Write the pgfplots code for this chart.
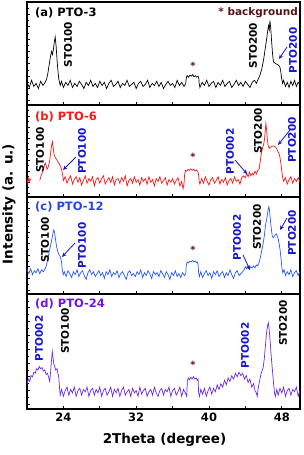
\documentclass[border=0pt]{standalone}
\usepackage{fontspec}
\setmainfont{DejaVu Sans}
\usepackage{pgfplots}
\pgfplotsset{compat=1.18}
\usetikzlibrary{arrows.meta}
\definecolor{lineB}{RGB}{255,20,20}
\definecolor{lineC}{RGB}{40,90,255}
\definecolor{lineD}{RGB}{110,40,240}
\definecolor{ptoblue}{RGB}{20,20,210}
\definecolor{maroon}{RGB}{90,20,20}
\definecolor{titleC}{RGB}{40,70,230}
\definecolor{titleD}{RGB}{110,20,230}
\pgfplotsset{panel/.style={
  scale only axis, width=273pt, anchor=south west,
  xmin=20, xmax=50, ymin=0, ymax=100,
  xtick={24,28,...,48}, xticklabels={},
  ytick={4,16,...,100}, yticklabels={}, minor y tick num=1,
  xtick pos=left, ytick pos=left, tick align=inside,
  major tick length=3.5pt, minor tick length=2pt,
  axis line style={line width=1.1pt},
  every tick/.style={black, line width=0.8pt},
  tick label style={font=\bfseries\fontsize{11.5}{13}\selectfont},
  /pgf/number format/assume math mode=true,
  clip=true,
}}
\tikzset{
  vlab/.style={rotate=90, inner sep=0pt, font=\bfseries\fontsize{10.5}{12}\selectfont},
  ttl/.style={anchor=west, inner sep=0pt, font=\bfseries\fontsize{11.5}{13}\selectfont},
  star/.style={inner sep=0pt, text=maroon, font=\bfseries\fontsize{10}{12}\selectfont},
  arr/.style={ptoblue, line width=0.8pt, -{Stealth[length=4.5pt,width=4pt]}},
}
\begin{document}
\begin{tikzpicture}[x=1pt,y=1pt]
\path[use as bounding box] (0,0) rectangle (303,-455);
% ---------------- panel a
\begin{axis}[panel, at={(27pt,-105pt)}, height=103pt]
\addplot[black, line width=0.7pt] table[row sep=\\] {
x y\\
20.00 22\\ 20.25 17\\ 20.50 24\\ 20.75 18\\ 21.00 21\\ 21.25 16\\ 21.50 23\\ 21.75 19\\ 22.00 22\\ 22.15 25\\
22.30 31\\ 22.45 40\\ 22.60 48\\ 22.70 52\\ 22.80 49\\ 22.90 54\\ 23.00 61\\ 23.10 66\\ 23.20 57\\ 23.30 44\\
23.40 33\\ 23.50 25\\ 23.65 19\\ 23.80 23\\ 24.00 17\\ 24.25 22\\ 24.50 19\\ 24.75 24\\ 25.00 17\\ 25.25 21\\
25.50 18\\ 25.75 23\\ 26.00 20\\ 26.25 16\\ 26.50 22\\ 26.75 19\\ 27.00 24\\ 27.25 18\\ 27.50 21\\ 27.75 17\\
28.00 23\\ 28.25 19\\ 28.50 22\\ 28.75 16\\ 29.00 21\\ 29.25 24\\ 29.50 18\\ 29.75 20\\ 30.00 23\\ 30.25 17\\
30.50 21\\ 30.75 19\\ 31.00 24\\ 31.25 18\\ 31.50 20\\ 31.75 22\\ 32.00 16\\ 32.25 21\\ 32.50 23\\ 32.75 18\\
33.00 20\\ 33.25 24\\ 33.50 17\\ 33.75 21\\ 34.00 19\\ 34.25 23\\ 34.50 18\\ 34.75 22\\ 35.00 16\\ 35.25 20\\
35.50 23\\ 35.75 19\\ 36.00 21\\ 36.25 17\\ 36.50 24\\ 36.75 19\\ 37.00 22\\ 37.25 18\\ 37.45 21\\ 37.50 26\\
37.60 28.5\\ 37.75 27\\ 37.90 29\\ 38.05 28\\ 38.20 29.5\\ 38.35 27.5\\ 38.50 28.5\\ 38.65 27\\ 38.80 28\\ 38.88 26\\
38.92 21\\ 39.00 17\\ 39.25 22\\ 39.50 19\\ 39.75 24\\ 40.00 18\\ 40.25 21\\ 40.50 23\\ 40.75 17\\ 41.00 22\\
41.25 19\\ 41.50 24\\ 41.75 18\\ 42.00 21\\ 42.25 23\\ 42.50 17\\ 42.75 20\\ 43.00 24\\ 43.25 19\\ 43.50 22\\
43.75 18\\ 44.00 23\\ 44.25 20\\ 44.50 17\\ 44.75 22\\ 45.00 24\\ 45.20 21\\ 45.40 25\\ 45.60 29\\ 45.80 35\\
46.00 44\\ 46.15 53\\ 46.30 62\\ 46.45 72\\ 46.55 77\\ 46.62 73\\ 46.70 82\\ 46.78 75\\ 46.88 62\\ 46.98 50\\
47.08 42\\ 47.20 41\\ 47.35 40\\ 47.50 39.5\\ 47.65 38.5\\ 47.78 37\\ 47.88 33\\ 47.98 26\\ 48.08 21\\ 48.20 24\\
48.40 18\\ 48.60 22\\ 48.80 17\\ 49.00 23\\ 49.20 19\\ 49.40 24\\ 49.60 18\\ 49.80 22\\ 50.00 20\\
};
\end{axis}
% ---------------- panel b
\begin{axis}[panel, at={(27pt,-197pt)}, height=92pt]
\addplot[lineB, line width=0.7pt] table[row sep=\\] {
x y\\
20.00 19\\ 20.10 15\\ 20.20 21\\ 20.30 17\\ 20.40 20\\
};
\addplot[lineB, line width=0.7pt] table[row sep=\\] {
x y\\
21.40 18\\ 21.55 23\\ 21.70 27\\ 21.85 32\\ 22.00 37\\ 22.10 34\\ 22.20 30\\ 22.35 33\\ 22.50 40\\ 22.62 50\\
22.72 57\\ 22.80 60\\ 22.88 53\\ 22.98 46\\ 23.10 43\\ 23.25 41\\ 23.40 38\\ 23.55 36\\ 23.70 33\\ 23.82 29\\
23.92 24\\ 24.00 18\\ 24.20 22\\ 24.40 15\\ 24.60 20\\ 24.80 23\\ 25.00 14\\ 25.20 19\\ 25.40 22\\ 25.60 16\\
25.80 21\\ 26.00 13\\ 26.20 18\\ 26.40 23\\ 26.60 15\\ 26.80 20\\ 27.00 17\\ 27.20 22\\ 27.40 12\\ 27.60 19\\
27.80 21\\ 28.00 15\\ 28.20 20\\ 28.40 23\\ 28.60 14\\ 28.80 18\\ 29.00 21\\ 29.20 16\\ 29.40 22\\ 29.60 13\\
29.80 19\\ 30.00 20\\ 30.20 15\\ 30.40 21\\ 30.60 17\\ 30.80 23\\ 31.00 12\\ 31.20 18\\ 31.40 20\\ 31.60 15\\
31.80 22\\ 32.00 16\\ 32.20 19\\ 32.40 13\\ 32.60 21\\ 32.80 17\\ 33.00 20\\ 33.20 14\\ 33.40 22\\ 33.60 16\\
33.80 19\\ 34.00 12\\ 34.20 20\\ 34.40 17\\ 34.60 22\\ 34.80 15\\ 35.00 18\\ 35.20 21\\ 35.40 13\\ 35.60 19\\
35.80 16\\ 36.00 20\\ 36.20 14\\ 36.40 18\\ 36.60 21\\ 36.80 12\\ 37.00 17\\ 37.15 9\\ 37.25 14\\ 37.32 24\\
37.40 29\\ 37.55 28\\ 37.70 30\\ 37.85 29\\ 38.00 30.5\\ 38.15 29\\ 38.30 30\\ 38.45 28.5\\ 38.60 29.5\\ 38.75 28\\
38.85 25\\ 38.92 17\\ 39.00 14\\ 39.20 20\\ 39.40 15\\ 39.60 22\\ 39.80 17\\ 40.00 13\\ 40.20 19\\ 40.40 21\\
40.60 15\\ 40.80 18\\ 41.00 22\\ 41.20 14\\ 41.40 19\\ 41.60 16\\ 41.80 21\\ 42.00 13\\ 42.20 18\\ 42.40 20\\
42.60 15\\ 42.80 22\\ 43.00 17\\ 43.20 19\\ 43.40 14\\ 43.60 21\\ 43.80 23\\ 44.00 21\\ 44.15 26\\ 44.30 22\\
44.45 27\\ 44.60 23\\ 44.75 26\\ 44.90 24\\ 45.05 28\\ 45.20 25\\ 45.35 29\\ 45.50 30\\ 45.62 38\\ 45.75 47\\
45.88 53\\ 46.00 57\\ 46.10 63\\ 46.18 72\\ 46.25 80\\ 46.32 74\\ 46.42 62\\ 46.52 55\\ 46.62 53\\ 46.75 54\\
46.90 55\\ 47.05 55.5\\ 47.20 55\\ 47.35 54\\ 47.50 51\\ 47.65 48\\ 47.78 44\\ 47.88 38\\ 47.98 30\\ 48.08 22\\
48.20 17\\ 48.40 21\\ 48.60 14\\ 48.80 19\\ 49.00 22\\ 49.20 15\\ 49.40 20\\ 49.60 17\\ 49.80 21\\ 50.00 16\\
};
\end{axis}
% ---------------- panel c
\begin{axis}[panel, at={(27pt,-294pt)}, height=97pt]
\addplot[lineC, line width=0.7pt] table[row sep=\\] {
x y\\
20.00 25\\ 20.20 21\\ 20.40 26\\ 20.60 20\\ 20.80 24\\ 21.00 22\\ 21.20 26\\ 21.40 21\\ 21.60 25\\ 21.80 23\\
22.00 26\\ 22.15 30\\ 22.30 37\\ 22.45 44\\ 22.60 50\\ 22.72 56\\ 22.84 62\\ 22.94 66\\ 23.02 64\\ 23.12 57\\
23.25 49\\ 23.40 43\\ 23.55 40\\ 23.68 38\\ 23.78 34\\ 23.88 25\\ 23.98 20\\ 24.10 23\\ 24.30 18\\ 24.50 24\\
24.70 21\\ 24.90 17\\ 25.10 23\\ 25.30 20\\ 25.50 25\\ 25.70 18\\ 25.90 22\\ 26.10 24\\ 26.30 19\\ 26.50 15\\
26.70 22\\ 26.90 25\\ 27.10 20\\ 27.30 23\\ 27.50 18\\ 27.70 21\\ 27.90 24\\ 28.10 19\\ 28.30 22\\ 28.50 16\\
28.70 23\\ 28.90 20\\ 29.10 25\\ 29.30 18\\ 29.50 22\\ 29.70 20\\ 29.90 24\\ 30.10 17\\ 30.30 21\\ 30.50 23\\
30.70 19\\ 30.90 15\\ 31.10 22\\ 31.30 24\\ 31.50 19\\ 31.70 21\\ 31.90 18\\ 32.10 23\\ 32.30 20\\ 32.50 25\\
32.70 17\\ 32.90 22\\ 33.10 19\\ 33.30 24\\ 33.50 21\\ 33.70 16\\ 33.90 23\\ 34.10 20\\ 34.30 22\\ 34.50 18\\
34.70 24\\ 34.90 21\\ 35.10 17\\ 35.30 23\\ 35.50 20\\ 35.70 15\\ 35.90 22\\ 36.10 19\\ 36.30 24\\ 36.50 18\\
36.70 21\\ 36.90 17\\ 37.10 22\\ 37.30 19\\ 37.45 21\\ 37.50 30\\ 37.62 33\\ 37.75 32\\ 37.90 34\\ 38.05 33\\
38.20 34.5\\ 38.35 33\\ 38.50 34\\ 38.62 32.5\\ 38.72 33\\ 38.80 30\\ 38.86 22\\ 38.95 18\\ 39.10 23\\ 39.30 17\\
39.50 21\\ 39.70 24\\ 39.90 19\\ 40.10 22\\ 40.30 16\\ 40.50 23\\ 40.70 20\\ 40.90 24\\ 41.10 18\\ 41.30 21\\
41.50 23\\ 41.70 17\\ 41.90 22\\ 42.10 19\\ 42.30 25\\ 42.50 20\\ 42.70 16\\ 42.90 22\\ 43.10 24\\ 43.30 19\\
43.50 21\\ 43.70 23\\ 43.85 25\\ 44.00 28\\ 44.15 26\\ 44.30 29\\ 44.45 26\\ 44.60 28\\ 44.75 27\\ 44.90 29\\
45.05 27\\ 45.20 30\\ 45.35 29\\ 45.50 32\\ 45.65 38\\ 45.80 45\\ 45.95 52\\ 46.08 60\\ 46.20 70\\ 46.32 76\\
46.42 82\\ 46.52 88\\ 46.58 90\\ 46.65 86\\ 46.75 76\\ 46.85 67\\ 46.95 60\\ 47.05 58\\ 47.15 59\\ 47.28 61\\
47.40 62\\ 47.50 60\\ 47.62 56\\ 47.72 51\\ 47.82 45\\ 47.92 36\\ 48.00 28\\ 48.10 22\\ 48.25 25\\ 48.40 19\\
48.60 23\\ 48.80 20\\ 49.00 25\\ 49.20 18\\ 49.40 22\\ 49.60 24\\ 49.80 19\\ 50.00 23\\
};
\end{axis}
% ---------------- panel d
\begin{axis}[panel, at={(27pt,-409pt)}, height=115pt, xticklabels={24,,32,,40,,48}]
\addplot[lineD, line width=0.7pt] table[row sep=\\] {
x y\\
20.00 22\\ 20.15 26\\ 20.30 24\\ 20.45 29\\ 20.60 28\\ 20.75 32\\ 20.90 31\\ 21.05 35\\ 21.20 34\\ 21.35 37\\
21.50 35\\ 21.65 36\\ 21.80 33\\ 21.95 34\\ 22.10 30\\ 22.25 31\\ 22.40 27\\ 22.50 24\\ 22.60 33\\ 22.70 43\\
22.78 50\\ 22.86 45\\ 22.95 39\\ 23.05 37\\ 23.15 34\\ 23.30 35\\ 23.40 31\\ 23.50 27\\ 23.58 18\\ 23.65 12\\
23.80 17\\ 24.00 11\\ 24.20 16\\ 24.40 19\\ 24.60 12\\ 24.80 17\\ 25.00 14\\ 25.20 19\\ 25.40 11\\ 25.60 16\\
25.80 18\\ 26.00 12\\ 26.20 17\\ 26.40 15\\ 26.60 19\\ 26.80 11\\ 27.00 16\\ 27.20 18\\ 27.40 12\\ 27.60 17\\
27.80 14\\ 28.00 19\\ 28.20 11\\ 28.40 16\\ 28.60 18\\ 28.80 12\\ 29.00 15\\ 29.20 19\\ 29.40 11\\ 29.60 17\\
29.80 14\\ 30.00 18\\ 30.20 11\\ 30.40 16\\ 30.60 19\\ 30.80 12\\ 31.00 15\\ 31.20 17\\ 31.40 11\\ 31.60 18\\
31.80 14\\ 32.00 16\\ 32.20 11\\ 32.40 19\\ 32.60 13\\ 32.80 16\\ 33.00 18\\ 33.20 11\\ 33.40 15\\ 33.60 17\\
33.80 12\\ 34.00 19\\ 34.20 14\\ 34.40 11\\ 34.60 16\\ 34.80 18\\ 35.00 12\\ 35.20 17\\ 35.40 15\\ 35.60 19\\
35.80 11\\ 36.00 16\\ 36.20 18\\ 36.40 12\\ 36.60 15\\ 36.80 19\\ 37.00 11\\ 37.20 17\\ 37.40 14\\ 37.55 11\\
37.62 24\\ 37.72 27\\ 37.85 25.5\\ 38.00 27.5\\ 38.15 26\\ 38.30 28\\ 38.45 26\\ 38.60 27\\ 38.72 25\\ 38.80 26\\
38.86 14\\ 38.95 11\\ 39.10 17\\ 39.30 13\\ 39.50 18\\ 39.70 11\\ 39.90 16\\ 40.10 19\\ 40.30 13\\ 40.50 18\\
40.70 15\\ 40.90 21\\ 41.10 17\\ 41.30 22\\ 41.50 19\\ 41.70 25\\ 41.90 21\\ 42.10 27\\ 42.30 24\\ 42.50 29\\
42.70 26\\ 42.90 31\\ 43.10 28\\ 43.30 32\\ 43.50 29\\ 43.70 31\\ 43.90 26\\ 44.10 29\\ 44.30 23\\ 44.50 26\\
44.70 19\\ 44.90 22\\ 45.05 16\\ 45.20 14\\ 45.30 11\\ 45.40 18\\ 45.55 24\\ 45.70 30\\ 45.82 33\\ 45.95 36\\
46.08 44\\ 46.20 55\\ 46.32 66\\ 46.45 73\\ 46.52 75\\ 46.60 70\\ 46.70 61\\ 46.80 50\\ 46.90 40\\ 47.00 31\\
47.10 22\\ 47.20 14\\ 47.30 11\\ 47.45 17\\ 47.60 12\\ 47.80 18\\ 48.00 14\\ 48.20 19\\ 48.40 11\\ 48.60 16\\
48.80 18\\ 49.00 12\\ 49.20 17\\ 49.40 15\\ 49.60 19\\ 49.80 11\\ 50.00 16\\
};
\end{axis}
% ---------------- annotations
% panel a
\node[ttl, text=black] at (35,-13) {(a) PTO-3};
\node[inner sep=0pt, anchor=east, text=maroon, font=\bfseries\fontsize{10.5}{12}\selectfont] at (298,-13) {* background};
\node[vlab, text=black] at (68,-44.5) {STO100};
\node[vlab, text=black] at (253,-45.5) {STO200};
\node[vlab, text=ptoblue] at (293,-50.5) {PTO200};
\draw[arr] (287,-47) -- (279,-59);
\node[star] at (193,-66) {*};
% panel b
\node[ttl, text=lineB] at (35,-117) {(b) PTO-6};
\node[vlab, text=black] at (40,-150) {STO100};
\node[vlab, text=ptoblue] at (82,-151) {PTO100};
\draw[arr] (76,-157) -- (63,-170);
\node[star] at (193,-157) {*};
\node[vlab, text=ptoblue] at (230,-151.5) {PTO002};
\draw[arr] (235,-160) -- (247,-174);
\node[vlab, text=black] at (258,-131) {STO200};
\node[vlab, text=ptoblue] at (292,-140) {PTO200};
\draw[arr] (290,-130) -- (278,-145);
% panel c
\node[ttl, text=titleC] at (35,-207) {(c) PTO-12};
\node[vlab, text=black] at (45,-240) {STO100};
\node[vlab, text=ptoblue] at (82,-245.5) {PTO100};
\draw[arr] (75,-243) -- (62,-257);
\node[star] at (193,-250) {*};
\node[vlab, text=ptoblue] at (237,-237.5) {PTO002};
\draw[arr] (243,-255) -- (250,-270);
\node[vlab, text=black] at (257,-227) {STO200};
\node[vlab, text=ptoblue] at (292,-233) {PTO200};
\draw[arr] (287,-218) -- (280,-230);
% panel d
\node[ttl, text=titleD] at (35,-304) {(d) PTO-24};
\node[vlab, text=ptoblue] at (39,-338.5) {PTO002};
\node[vlab, text=black] at (65,-331) {STO100};
\node[star] at (193,-365) {*};
\node[vlab, text=ptoblue] at (245,-345.5) {PTO002};
\node[vlab, text=black] at (283,-323) {STO200};
% axis labels
\node[rotate=90, inner sep=0pt, font=\bfseries\fontsize{13.5}{15}\selectfont] at (9,-204) {Intensity (a. u.)};
\node[inner sep=0pt, font=\bfseries\fontsize{13.5}{15}\selectfont] at (164.5,-440) {2Theta (degree)};
\end{tikzpicture}
\end{document}
